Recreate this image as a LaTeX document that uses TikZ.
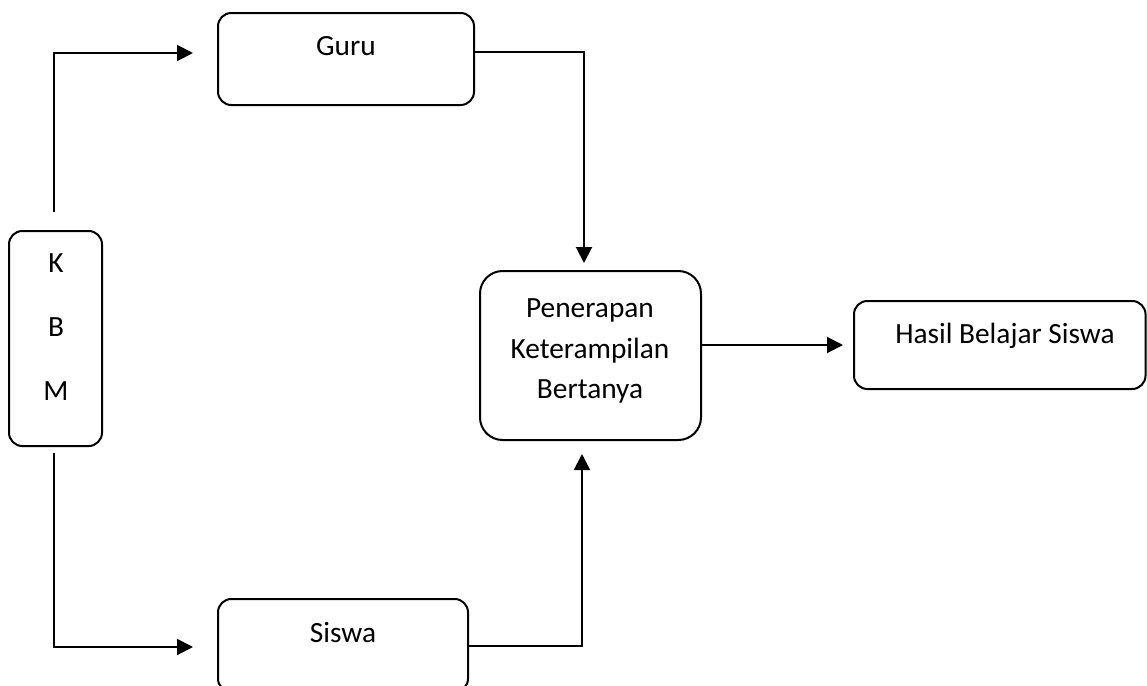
\documentclass[tikz,border=0pt]{standalone}
\usepackage{fontspec}
\setmainfont{Carlito}
\usetikzlibrary{arrows.meta,fit}
\begin{document}
\begin{tikzpicture}[x=0.75pt,y=-0.75pt,
  box/.style={draw, line width=1.5pt, inner sep=0pt, rounded corners=10pt},
  txt/.style={inner sep=0pt, anchor=base, font=\fontsize{22pt}{30pt}\selectfont},
  conn/.style={line width=1.5pt, -{Triangle[length=12pt,width=12pt]}}]
\useasboundingbox (0,0) rectangle (1147,686);
\clip (0,0) rectangle (1147,686);
% boxes
\node[box, fit={(9,231) (102,446)}] (kbm) {};
\node[box, fit={(218,13) (474,105)}] (guru) {};
\node[box, fit={(218,599) (468,692)}] (siswa) {};
\node[box, rounded corners=17pt, fit={(480,271) (701,440)}] (pen) {};
\node[box, fit={(854,301) (1145.5,389)}] (hasil) {};
% texts
\node[txt] (k) at (56,272) {K};
\node[txt] (b) at (56,336) {B};
\node[txt] (m) at (56,400) {M};
\node[txt] (gurut) at (346,55) {Guru};
\node[txt] (siswat) at (343,642) {Siswa};
\node[txt] (pen1) at (590,317) {Penerapan};
\node[txt] (pen2) at (590,358) {Keterampilan};
\node[txt] (pen3) at (590,398) {Bertanya};
\node[txt] (hasilt) at (1005,343) {Hasil Belajar Siswa};
% connector ends
\coordinate (kt) at (54,212);
\coordinate (gin) at (193,53);
\coordinate (kb) at (54,453);
\coordinate (sin) at (193,647);
\coordinate (pin1) at (584,263);
\coordinate (pin2) at (582,454);
% connectors
\draw[conn] (kt) |- (gin);
\draw[conn] (kb) |- (sin);
\draw[conn] ([yshift=5pt]guru.east) -| (pin1);
\draw[conn] (siswa.east) -| (pin2);
\draw[conn] (pen.east |- hasil.west) -- ([xshift=-7.5pt]hasil.west);
\end{tikzpicture}
\end{document}
